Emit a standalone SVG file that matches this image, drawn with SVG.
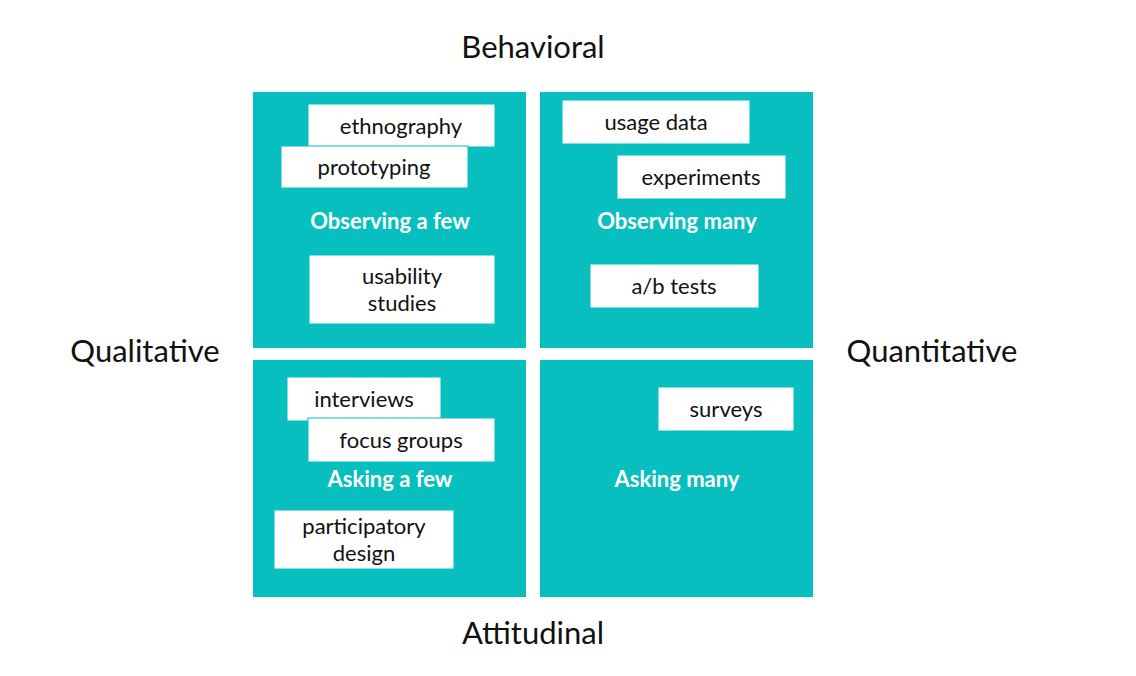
<svg xmlns="http://www.w3.org/2000/svg" width="1136" height="676" viewBox="0 0 1136 676">
<style>
.q{fill:#08bfbf}
.b{fill:#fff;stroke:#08bfbf;stroke-width:1}
.t{font-family:Lato,"Noto Sans",sans-serif;font-size:22px;fill:#111;text-anchor:middle}
.h{font-family:Lato,"Noto Sans",sans-serif;font-size:22px;font-weight:bold;fill:#fff;text-anchor:middle}
.a{font-family:Lato,"Noto Sans",sans-serif;font-size:31px;fill:#111;text-anchor:middle}
</style>
<rect width="1136" height="676" fill="#fff"/>
<g id="axes">
<text class="a" x="533" y="58">Behavioral</text>
<text class="a" x="533" y="644">Attitudinal</text>
<text class="a" x="145" y="362">Qualitative</text>
<text class="a" x="932" y="362">Quantitative</text>
</g>
<g id="q-observing-few">
<rect class="q" x="253" y="92" width="273" height="256"/>
<text class="h" x="390" y="229">Observing a few</text>
</g>
<g id="q-observing-many">
<rect class="q" x="540" y="92" width="273" height="256"/>
<text class="h" x="677" y="229">Observing many</text>
</g>
<g id="q-asking-few">
<rect class="q" x="253" y="360" width="273" height="237"/>
<text class="h" x="390" y="487">Asking  a few</text>
</g>
<g id="q-asking-many">
<rect class="q" x="540" y="360" width="273" height="237"/>
<text class="h" x="677" y="487">Asking  many</text>
</g>
<g id="ethnography"><rect class="b" x="308" y="104" width="187" height="43"/><text class="t" x="401" y="134">ethnography</text></g>
<g id="prototyping"><rect class="b" x="281" y="146" width="187" height="42"/><text class="t" x="374" y="175">prototyping</text></g>
<g id="usability"><rect class="b" x="309" y="255" width="186" height="69"/><text class="t" x="402" y="284">usability</text><text class="t" x="402" y="311">studies</text></g>
<g id="usage"><rect class="b" x="562" y="100" width="188" height="44"/><text class="t" x="656" y="130">usage data</text></g>
<g id="experiments"><rect class="b" x="617" y="155" width="169" height="44"/><text class="t" x="701" y="185">experiments</text></g>
<g id="ab"><rect class="b" x="590" y="264" width="169" height="44"/><text class="t" x="674" y="294">a/b tests</text></g>
<g id="interviews"><rect class="b" x="287" y="377" width="154" height="44"/><text class="t" x="364" y="407">interviews</text></g>
<g id="focus"><rect class="b" x="308" y="418" width="187" height="44"/><text class="t" x="401" y="448">focus groups</text></g>
<g id="participatory"><rect class="b" x="274" y="510" width="180" height="59"/><text class="t" x="364" y="534">participatory</text><text class="t" x="364" y="561">design</text></g>
<g id="surveys"><rect class="b" x="658" y="387" width="136" height="44"/><text class="t" x="726" y="417">surveys</text></g>
<g id="connectors"/>
</svg>
